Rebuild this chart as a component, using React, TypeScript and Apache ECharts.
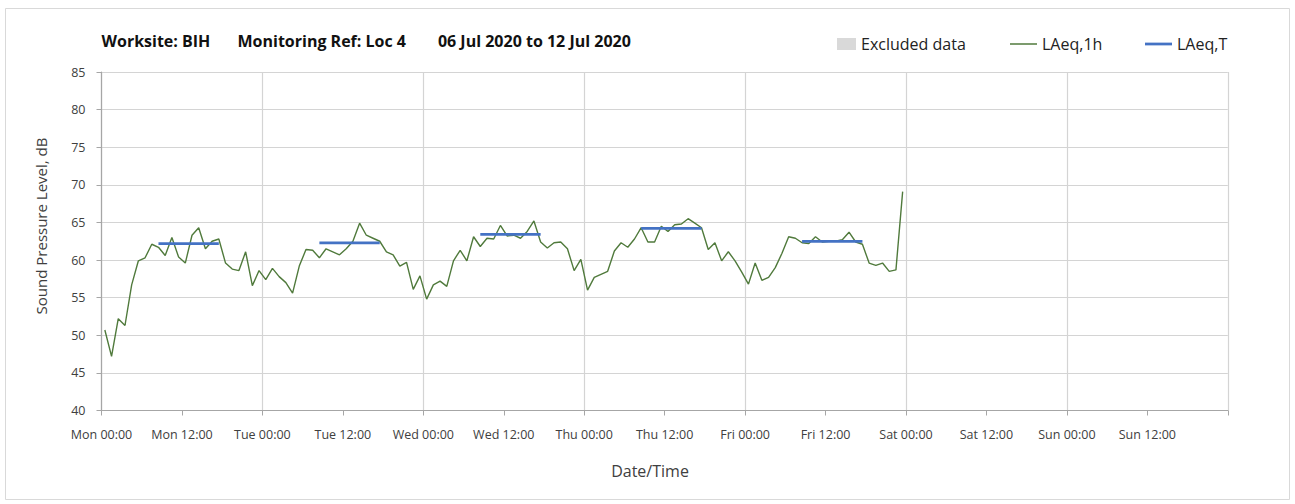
import React, { useEffect, useRef } from "react";
import * as echarts from "echarts";

// ---- data ----
const xTickLabels = [
  "Mon 00:00", "Mon 12:00", "Tue 00:00", "Tue 12:00", "Wed 00:00", "Wed 12:00",
  "Thu 00:00", "Thu 12:00", "Fri 00:00", "Fri 12:00", "Sat 00:00", "Sat 12:00",
  "Sun 00:00", "Sun 12:00",
];

// hourly LAeq,1h values, Mon 00:00 .. Fri 23:00 (one per hour)
const laeq1h = [
  50.7, 47.2, 52.2, 51.3, 56.7, 59.9, 60.3, 62.1, 61.7, 60.6, 63.0, 60.4,
  59.6, 63.3, 64.3, 61.5, 62.5, 62.8, 59.6, 58.8, 58.6, 61.1, 56.6, 58.6,
  57.4, 58.9, 57.8, 57.0, 55.6, 59.2, 61.4, 61.3, 60.3, 61.5, 61.1, 60.7,
  61.5, 62.5, 64.9, 63.3, 62.9, 62.5, 61.1, 60.7, 59.2, 59.7, 56.1, 57.9,
  54.8, 56.7, 57.2, 56.5, 59.9, 61.3, 59.9, 63.1, 61.8, 62.9, 62.8, 64.6,
  63.2, 63.3, 62.9, 63.8, 65.2, 62.4, 61.6, 62.3, 62.4, 61.5, 58.6, 60.1,
  56.0, 57.7, 58.1, 58.5, 61.2, 62.3, 61.7, 62.8, 64.3, 62.4, 62.4, 64.5,
  63.8, 64.7, 64.8, 65.5, 64.9, 64.3, 61.4, 62.3, 59.9, 61.1, 59.9, 58.4,
  56.8, 59.6, 57.3, 57.7, 59.0, 60.9, 63.1, 62.9, 62.3, 62.2, 63.1, 62.4,
  62.5, 62.5, 62.7, 63.7, 62.4, 62.1, 59.6, 59.3, 59.6, 58.5, 58.7, 69.1,
];

// LAeq,T daytime periods (hour index of first and last hourly value, Mon = 0)
const periodStartHour = [8, 32, 56, 80, 104];
const periodEndHour = [17, 41, 65, 89, 113];
const laeqT = [62.2, 62.3, 63.4, 64.2, 62.5];

const FONT = '"Open Sans", "Noto Sans", sans-serif';
const GREEN = "#507a3c";
const BLUE = "#4472c4";
const GRID = "#d4d4d4";
const AXIS = "#a6a6a6";
const TXT = "#404040";

export default function App() {
  const ref = useRef<HTMLDivElement>(null);

  useEffect(() => {
    if (!ref.current) return;
    const chart = echarts.init(ref.current, null, { renderer: "svg" });

    const hourly = laeq1h.map((v, i) => [i + 0.5, v]);
    const periodSeries = laeqT.map((v, k) => ({
      name: "LAeq,T",
      type: "line",
      xAxisIndex: 0,
      yAxisIndex: 0,
      symbol: "none",
      showSymbol: false,
      data: [
        [periodStartHour[k] + 0.5, v],
        [periodEndHour[k] + 0.5, v],
      ],
      lineStyle: { color: BLUE, width: 2.75 },
      itemStyle: { color: BLUE },
      z: 3,
    }));

    const legendText = { fontFamily: FONT, fontSize: 16, color: "#222" };

    chart.setOption({
      animation: false,
      textStyle: { fontFamily: FONT },
      grid: { left: 101.5, top: 72, right: 67.2, bottom: 93.5, containLabel: false },
      legend: [
        {
          data: [{ name: "Excluded data", icon: "rect", itemStyle: { color: "#d9d9d9" } }],
          left: 837, top: 36, itemWidth: 19, itemHeight: 12, padding: 0,
          selectedMode: false, textStyle: legendText,
        },
        {
          data: [{ name: "LAeq,1h", icon: "rect", itemStyle: { color: GREEN } }],
          left: 1010, top: 36, itemWidth: 27, itemHeight: 1.5, padding: 0,
          selectedMode: false, textStyle: legendText,
        },
        {
          data: [{ name: "LAeq,T", icon: "rect", itemStyle: { color: BLUE } }],
          left: 1145, top: 36, itemWidth: 27, itemHeight: 2.75, padding: 0,
          selectedMode: false, textStyle: legendText,
        },
      ],
      xAxis: [
        {
          type: "value",
          min: 0,
          max: 168,
          interval: 12,
          axisLine: { show: true, lineStyle: { color: AXIS, width: 1.2 } },
          axisTick: { show: true, length: 5, lineStyle: { color: AXIS } },
          splitLine: { show: false },
          axisLabel: {
            margin: 17,
            fontFamily: FONT,
            fontSize: 12.5,
            color: TXT,
            formatter: (v: number) => xTickLabels[Math.round(v / 12)] ?? "",
          },
        },
        {
          type: "value",
          min: 0,
          max: 168,
          interval: 24,
          position: "bottom",
          axisLine: { show: false },
          axisTick: { show: false },
          axisLabel: { show: false },
          splitLine: { show: true, lineStyle: { color: GRID, width: 1.2 } },
        },
      ],
      yAxis: {
        type: "value",
        min: 40,
        max: 85,
        interval: 5,
        axisLine: { show: true, lineStyle: { color: AXIS, width: 1.2 } },
        axisTick: { show: true, length: 5, lineStyle: { color: AXIS } },
        splitLine: { show: true, lineStyle: { color: GRID, width: 1.2 } },
        axisLabel: { margin: 16, fontFamily: FONT, fontSize: 12.5, color: TXT },
      },
      graphic: [
        {
          type: "rect",
          silent: true,
          z: -10,
          shape: { x: 5.5, y: 8.5, width: 1284, height: 491 },
          style: { fill: "none", stroke: "#d9d9d9", lineWidth: 1 },
        },
        {
          type: "text", x: 101.5, y: 41, silent: true,
          style: { text: "Worksite: BIH", font: `bold 16px ${FONT}`, fill: "#111", align: "left", verticalAlign: "middle" },
        },
        {
          type: "text", x: 237.5, y: 41, silent: true,
          style: { text: "Monitoring Ref: Loc 4", font: `bold 16px ${FONT}`, fill: "#111", align: "left", verticalAlign: "middle" },
        },
        {
          type: "text", x: 437.9, y: 41, silent: true,
          style: { text: "06 Jul 2020 to 12 Jul 2020", font: `bold 16px ${FONT}`, fill: "#111", align: "left", verticalAlign: "middle" },
        },
        {
          type: "text", x: 650, y: 471, silent: true,
          style: { text: "Date/Time", font: `16px ${FONT}`, fill: TXT, align: "center", verticalAlign: "middle" },
        },
        {
          type: "text", x: 40.5, y: 226, rotation: Math.PI / 2, silent: true,
          style: { text: "Sound Pressure Level, dB", font: `15px ${FONT}`, fill: TXT, align: "center", verticalAlign: "middle" },
        },
      ],
      series: [
        {
          name: "Excluded data",
          type: "line",
          data: [],
          symbol: "none",
          itemStyle: { color: "#d9d9d9" },
          lineStyle: { color: "#d9d9d9" },
        },
        {
          name: "LAeq,1h",
          type: "line",
          xAxisIndex: 0,
          yAxisIndex: 0,
          symbol: "none",
          showSymbol: false,
          data: hourly,
          lineStyle: { color: GREEN, width: 1.4 },
          itemStyle: { color: GREEN },
          z: 2,
        },
        ...periodSeries,
      ],
    });

    return () => chart.dispose();
  }, []);

  return (
    <div
      ref={ref}
      style={{ position: "absolute", left: 0, top: 0, width: 1295, height: 504, background: "#fff" }}
    />
  );
}
